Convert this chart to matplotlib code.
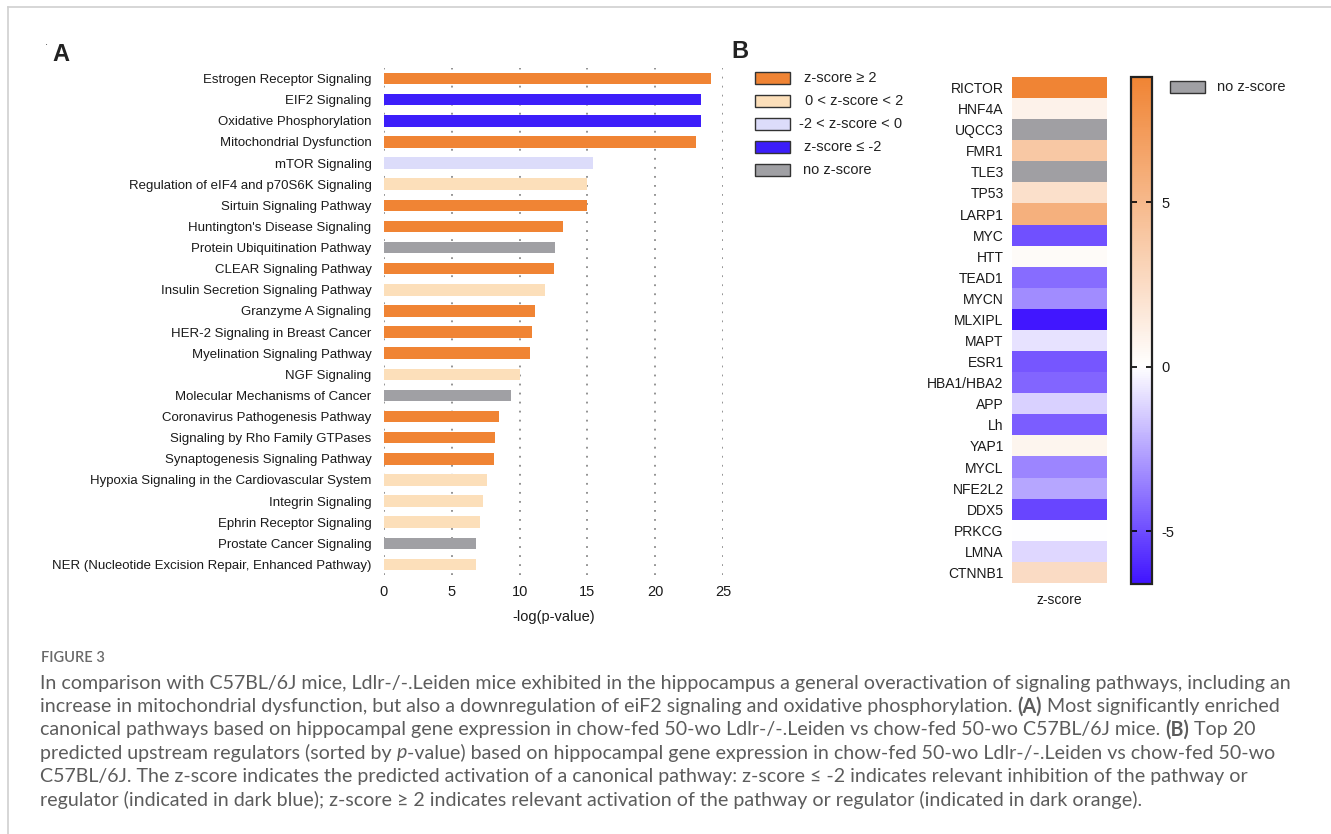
import numpy as np
import matplotlib
matplotlib.use("Agg")
import matplotlib.pyplot as plt
from matplotlib.colors import LinearSegmentedColormap, Normalize
from matplotlib.patches import Rectangle

plt.rcParams["axes.unicode_minus"] = False

# ---- panel A: canonical pathways ----
pathways = [
    "Estrogen Receptor Signaling", "EIF2 Signaling", "Oxidative Phosphorylation",
    "Mitochondrial Dysfunction", "mTOR Signaling",
    "Regulation of eIF4 and p70S6K Signaling", "Sirtuin Signaling Pathway",
    "Huntington's Disease Signaling", "Protein Ubiquitination Pathway",
    "CLEAR Signaling Pathway", "Insulin Secretion Signaling Pathway",
    "Granzyme A Signaling", "HER-2 Signaling in Breast Cancer",
    "Myelination Signaling Pathway", "NGF Signaling",
    "Molecular Mechanisms of Cancer", "Coronavirus Pathogenesis Pathway",
    "Signaling by Rho Family GTPases", "Synaptogenesis Signaling Pathway",
    "Hypoxia Signaling in the Cardiovascular System", "Integrin Signaling",
    "Ephrin Receptor Signaling", "Prostate Cancer Signaling",
    "NER (Nucleotide Excision Repair, Enhanced Pathway)",
]
neglogp = [24.1, 23.4, 23.4, 23.0, 15.4, 15.0, 15.0, 13.2, 12.6, 12.5, 11.9,
           11.1, 10.9, 10.8, 10.0, 9.4, 8.5, 8.2, 8.1, 7.6, 7.3, 7.1, 6.8, 6.8]
zclass = ["up", "down", "down", "up", "mild_down", "mild_up", "up", "up",
          "none", "up", "mild_up", "up", "up", "up", "mild_up", "none", "up",
          "up", "up", "mild_up", "mild_up", "mild_up", "none", "mild_up"]

class_colors = {"up": "#F08434", "mild_up": "#FCDFBA", "mild_down": "#DCDCFA",
                "down": "#3C1EFA", "none": "#A0A0A4"}
legend_keys = ["up", "mild_up", "mild_down", "down", "none"]
legend_text = ["z-score \u2265 2", "0 < z-score < 2", "-2 < z-score < 0",
               "z-score \u2264 -2", "no z-score"]

# ---- panel B: upstream regulators ----
regulators = ["RICTOR", "HNF4A", "UQCC3", "FMR1", "TLE3", "TP53", "LARP1",
              "MYC", "HTT", "TEAD1", "MYCN", "MLXIPL", "MAPT", "ESR1",
              "HBA1/HBA2", "APP", "Lh", "YAP1", "MYCL", "NFE2L2", "DDX5",
              "PRKCG", "LMNA", "CTNNB1"]
zscores = [8.8, 0.9, None, 3.9, None, 2.2, 5.6, -4.9, 0.3, -4.1, -3.2, -6.5,
           -0.8, -4.7, -4.3, -1.3, -4.5, 0.7, -3.4, -2.5, -5.2, 0.0, -1.1, 2.5]
z_min, z_max = -6.6, 8.8
cbar_ticks = [-5, 0, 5]

W, H = 1331, 834
arial = ["Liberation Sans", "DejaVu Sans"]
cap_font = ["Lato", "DejaVu Sans"]
cap_color = "#5c5c5c"


def box(x0, y0, x1, y1):
    return [x0 / W, 1 - y1 / H, (x1 - x0) / W, (y1 - y0) / H]


fig = plt.figure(figsize=(W / 100, H / 100), dpi=100)
renderer = fig.canvas.get_renderer()

# overlay in pixel units for frame, labels, legends and caption
over = fig.add_axes([0, 0, 1, 1], zorder=5)
over.set_xlim(0, W)
over.set_ylim(H, 0)
over.axis("off")
over.patch.set_alpha(0)

over.plot([8, W], [7, 7], color="#d0d0d0", lw=1.2)
over.plot([8, 8], [7, H], color="#d0d0d0", lw=1.2)

# pathway labels sized so the longest one spans the label column
probe = over.text(0, 0, pathways[-1], family=arial, fontsize=10)
lab_size = 10 * 322 / probe.get_window_extent(renderer).width
probe.remove()

# ---- bar chart ----
ax = fig.add_axes(box(384, 68, 723, 575))
ypos = np.arange(len(pathways))
ax.barh(ypos, neglogp, height=0.55, color=[class_colors[c] for c in zclass],
        zorder=3)
ax.set_xlim(0, 25)
ax.set_ylim(len(pathways) - 0.5, -0.5)
ax.set_xticks([0, 5, 10, 15, 20, 25])
ax.set_yticks(ypos)
ax.set_yticklabels(pathways, fontsize=lab_size, family=arial, color="#1a1a1a")
ax.tick_params(axis="y", length=0, pad=9)
ax.tick_params(axis="x", length=0, pad=7)
for lb in ax.get_xticklabels():
    lb.set_family(arial)
    lb.set_fontsize(10.5)
    lb.set_color("#1a1a1a")
ax.grid(axis="x", linestyle=(0, (1, 4)), color="#8a8a8a", lw=1.3, zorder=0)
for s in ax.spines.values():
    s.set_visible(False)
ax.set_xlabel("-log(p-value)", family=arial, fontsize=10.5, labelpad=8,
              color="#1a1a1a")

# legend of panel A
leg_y = [78, 101, 124, 147, 170]
leg_tx = [804, 805, 799, 804, 803]
for k, txt, yy, tx in zip(legend_keys, legend_text, leg_y, leg_tx):
    over.add_patch(Rectangle((755, yy - 6), 35, 12, facecolor=class_colors[k],
                             edgecolor="#333333", lw=1))
    over.text(tx, yy, txt, family=arial, fontsize=10.5, va="center",
              ha="left", color="#222222")

# ---- heatmap ----
hm = fig.add_axes(box(1012, 77, 1107, 583))
white_at = -z_min / (z_max - z_min)
cmap = LinearSegmentedColormap.from_list(
    "bwo", [(0.0, "#4014FF"), (white_at, "#FFFFFF"), (1.0, "#F08434")])
cmap.set_bad("#A09FA3")
norm = Normalize(vmin=z_min, vmax=z_max)
zarr = np.ma.masked_invalid(np.array([np.nan if v is None else v
                                      for v in zscores], dtype=float))
img = hm.imshow(zarr.reshape(-1, 1), cmap=cmap, norm=norm, aspect="auto",
                interpolation="nearest")
hm.set_yticks(np.arange(len(regulators)))
hm.set_yticklabels(regulators, family=arial, fontsize=10, color="#1a1a1a")
hm.set_xticks([])
hm.tick_params(axis="y", length=0, pad=6)
for s in hm.spines.values():
    s.set_visible(False)
hm.set_xlabel("z-score", family=arial, fontsize=10, labelpad=7,
              color="#1a1a1a")

cax = fig.add_axes(box(1131, 77, 1152, 584))
cb = fig.colorbar(img, cax=cax, ticks=cbar_ticks)
cb.outline.set_linewidth(1.6)
cb.outline.set_edgecolor("#222222")
cax.tick_params(direction="in", left=True, right=True, length=4, width=1.2,
                labelsize=10.5, pad=7, labelcolor="#1a1a1a")
for lb in cax.get_yticklabels():
    lb.set_family(arial)

over.add_patch(Rectangle((1170, 81), 35, 12, facecolor="#A0A0A4",
                         edgecolor="#333333", lw=1))
over.text(1217, 87, "no z-score", family=arial, fontsize=10.5, va="center",
          ha="left", color="#222222")

# panel letters
over.text(52, 54, "A", family=arial, fontsize=17, fontweight="bold",
          va="center", ha="left", color="#222222")
over.text(47, 42, ".", family=arial, fontsize=8, va="center", ha="center",
          color="#444444")
over.text(731, 51, "B", family=arial, fontsize=17, fontweight="bold",
          va="center", ha="left", color="#222222")

# ---- caption ----
over.text(41, 658, "FIGURE 3", family=cap_font, fontsize=10.5,
          fontweight="semibold", va="center", ha="left", color="#6a6a6a")

caption = [
    [("In comparison with C57BL/6J mice, Ldlr-/-.Leiden mice exhibited in the "
      "hippocampus a general overactivation of signaling pathways, including an", "n")],
    [("increase in mitochondrial dysfunction, but also a downregulation of eiF2 "
      "signaling and oxidative phosphorylation. ", "n"), ("(A)", "b"),
     (" Most significantly enriched", "n")],
    [("canonical pathways based on hippocampal gene expression in chow-fed 50-wo "
      "Ldlr-/-.Leiden vs chow-fed 50-wo C57BL/6J mice. ", "n"), ("(B)", "b"),
     (" Top 20", "n")],
    [("predicted upstream regulators (sorted by ", "n"), ("p", "i"),
     ("-value) based on hippocampal gene expression in chow-fed 50-wo "
      "Ldlr-/-.Leiden vs chow-fed 50-wo", "n")],
    [("C57BL/6J. The z-score indicates the predicted activation of a canonical "
      "pathway: z-score \u2264 -2 indicates relevant inhibition of the pathway or", "n")],
    [("regulator (indicated in dark blue); z-score \u2265 2 indicates relevant "
      "activation of the pathway or regulator (indicated in dark orange).", "n")],
]

# size the caption font so the first line fills the column
probe = over.text(0, 0, caption[0][0][0], family=cap_font, fontsize=13)
cap_size = 13 * 1243 / probe.get_window_extent(renderer).width
probe.remove()

for i, line in enumerate(caption):
    x = 40
    y = 683 + 23.3 * i
    for seg, style in line:
        t = over.text(x, y, seg, family=cap_font, fontsize=cap_size,
                      va="center", ha="left", color=cap_color,
                      fontweight="bold" if style == "b" else "normal",
                      fontstyle="italic" if style == "i" else "normal")
        x += t.get_window_extent(renderer).width

fig.savefig("out.png", dpi=100)
